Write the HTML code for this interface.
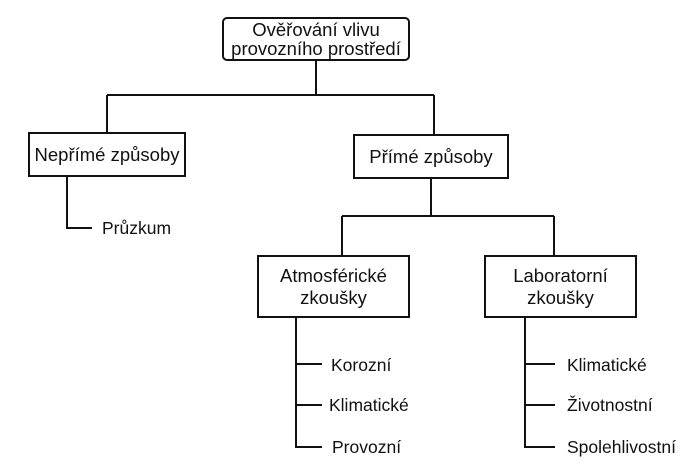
<!DOCTYPE html>
<html><head><meta charset="utf-8"><style>
body{margin:0;width:697px;height:469px;background:#fff;position:relative;overflow:hidden;font-family:"Liberation Sans",Arial,sans-serif;color:#111}
.b{position:absolute;border:2px solid #111;box-sizing:border-box;display:flex;align-items:center;justify-content:center;text-align:center;font-size:18.5px;line-height:20px;background:#fff}
.t{position:absolute;font-size:17.5px;line-height:20px}
svg{position:absolute;left:0;top:0}
</style></head><body>
<svg width="697" height="469" stroke="#111" stroke-width="2" fill="none">
<path d="M316 60V95M107 95H434M107 95V132M434 95V134"/>
<path d="M67 176V228H92"/>
<path d="M431 178V216M342 216H554M342 216V255M554 216V255"/>
<path d="M296 317V447H322M296 364H322M296 405H322"/>
<path d="M525 317V447H555M525 364H555M525 405H555"/>
</svg>
<div class="b" style="left:222px;top:17px;width:188px;height:44px;border-radius:5px;line-height:19px">Ověřování vlivu<br>provozního prostředí</div>
<div class="b" style="left:28px;top:132px;width:158px;height:45px">Nepřímé způsoby</div>
<div class="b" style="left:353px;top:134px;width:156px;height:45px">Přímé způsoby</div>
<div class="b" style="left:257px;top:255px;width:153px;height:63px;line-height:22px">Atmosférické<br>zkoušky</div>
<div class="b" style="left:484px;top:255px;width:153px;height:63px;line-height:22px">Laboratorní<br>zkoušky</div>
<div class="t" style="left:102px;top:218px">Průzkum</div>
<div class="t" style="left:331px;top:355px">Korozní</div>
<div class="t" style="left:329px;top:395px">Klimatické</div>
<div class="t" style="left:332px;top:437px">Provozní</div>
<div class="t" style="left:567px;top:355px">Klimatické</div>
<div class="t" style="left:567px;top:395px">Životnostní</div>
<div class="t" style="left:567px;top:437px">Spolehlivostní</div>
</body></html>
